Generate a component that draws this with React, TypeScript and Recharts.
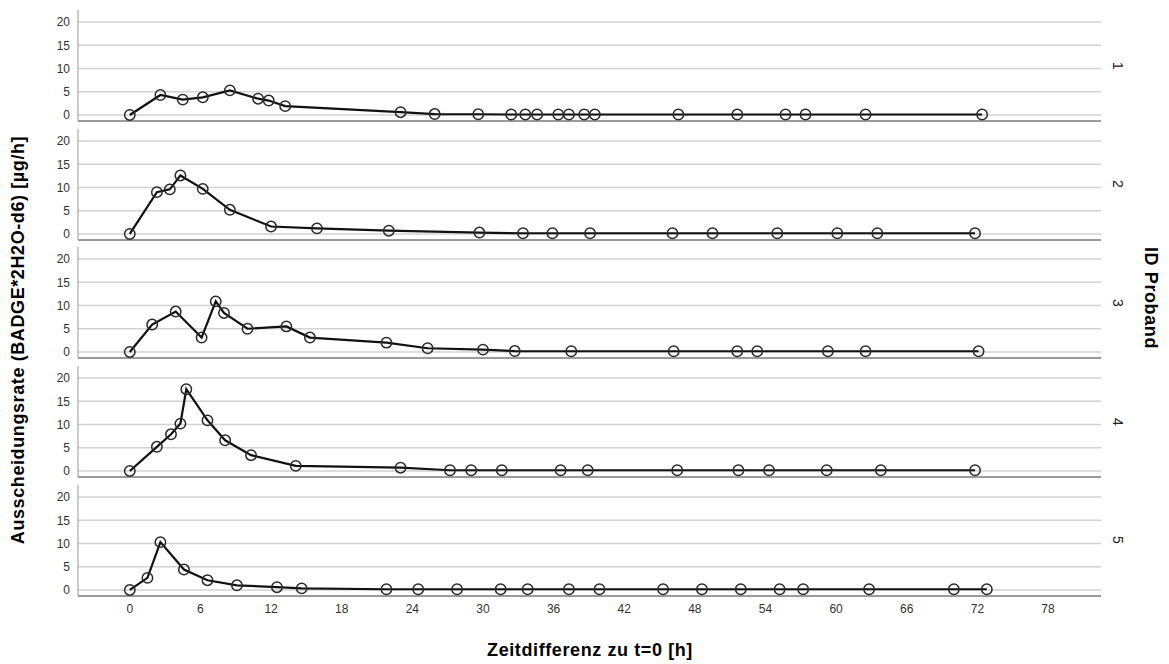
import React from "react";
import { LineChart, Line, XAxis, YAxis, CartesianGrid } from "recharts";

const panelIds = ["1", "2", "3", "4", "5"];

const times1 = [0, 2.6, 4.5, 6.2, 8.5, 10.9, 11.8, 13.2, 23.0, 25.9, 29.6, 32.4, 33.6, 34.6, 36.4, 37.3, 38.6, 39.5, 46.6, 51.6, 55.7, 57.4, 62.5, 72.4];
const values1 = [0, 4.3, 3.3, 3.8, 5.3, 3.5, 3.1, 1.9, 0.6, 0.2, 0.15, 0.1, 0.1, 0.1, 0.1, 0.1, 0.1, 0.1, 0.1, 0.1, 0.1, 0.1, 0.1, 0.1];

const times2 = [0, 2.3, 3.4, 4.3, 6.2, 8.5, 12.0, 15.9, 22.0, 29.7, 33.4, 35.9, 39.1, 46.1, 49.5, 55.0, 60.1, 63.5, 71.8];
const values2 = [0, 9.0, 9.6, 12.6, 9.7, 5.2, 1.6, 1.2, 0.7, 0.3, 0.15, 0.15, 0.15, 0.15, 0.15, 0.15, 0.15, 0.15, 0.15];

const times3 = [0, 1.9, 3.9, 6.1, 7.3, 8.0, 10.0, 13.3, 15.3, 21.8, 25.3, 30.0, 32.7, 37.5, 46.2, 51.6, 53.3, 59.3, 62.5, 72.1];
const values3 = [0, 5.9, 8.7, 3.1, 10.9, 8.4, 5.0, 5.5, 3.1, 2.0, 0.8, 0.5, 0.2, 0.15, 0.15, 0.15, 0.15, 0.15, 0.15, 0.15];

const times4 = [0, 2.3, 3.5, 4.3, 4.8, 6.6, 8.1, 10.3, 14.1, 23.0, 27.2, 29.0, 31.6, 36.6, 38.9, 46.5, 51.7, 54.3, 59.2, 63.8, 71.8];
const values4 = [0, 5.2, 7.9, 10.2, 17.6, 10.9, 6.6, 3.4, 1.1, 0.7, 0.15, 0.15, 0.15, 0.15, 0.15, 0.15, 0.15, 0.15, 0.15, 0.15, 0.15];

const times5 = [0, 1.5, 2.6, 4.6, 6.6, 9.1, 12.5, 14.6, 21.8, 24.5, 27.8, 31.5, 33.8, 37.3, 39.9, 45.3, 48.6, 51.9, 55.2, 57.2, 62.8, 70.0, 72.8];
const values5 = [0, 2.6, 10.3, 4.4, 2.1, 1.0, 0.6, 0.35, 0.15, 0.15, 0.15, 0.15, 0.15, 0.15, 0.15, 0.15, 0.15, 0.15, 0.15, 0.15, 0.15, 0.15, 0.15];

const xTicks = [0, 6, 12, 18, 24, 30, 36, 42, 48, 54, 60, 66, 72, 78];
const yTicks = [0, 5, 10, 15, 20];

const allTimes = [times1, times2, times3, times4, times5];
const allValues = [values1, values2, values3, values4, values5];

const FONT = '"Liberation Sans", Arial, sans-serif';
const PANEL_TOP = 10;
const PANEL_PITCH = 118.7;
const PLOT_H = 111;

function Panel({ idx }: { idx: number }) {
  const data = allTimes[idx].map((t, i) => ({ t, v: allValues[idx][i] }));
  const last = idx === 4;
  const h = PLOT_H + (last ? 30 : 1);
  return (
    <div style={{ position: "absolute", left: 0, top: PANEL_TOP + idx * PANEL_PITCH }}>
      <LineChart width={1169} height={h} data={data} margin={{ top: 0, right: 68, bottom: 0, left: 0 }}>
        <CartesianGrid vertical={false} horizontal={true} stroke="#d2d2d2" strokeWidth={1.5} horizontalValues={yTicks} />
        <XAxis
          dataKey="t"
          type="number"
          domain={[-4.4, 82.5]}
          ticks={xTicks}
          interval={0}
          allowDataOverflow
          height={last ? 30 : 1}
          tick={last ? { fontSize: 12, fill: "#333", fontFamily: FONT } : false}
          tickLine={false}
          tickSize={0}
          tickMargin={8}
          axisLine={{ stroke: "#7a7a7a", strokeWidth: 1.5 }}
        />
        <YAxis
          type="number"
          domain={[-1.3, 22.6]}
          ticks={yTicks}
          interval={0}
          allowDataOverflow
          width={78}
          tick={{ fontSize: 12, fill: "#333", fontFamily: FONT }}
          tickLine={false}
          tickSize={0}
          tickMargin={8}
          axisLine={{ stroke: "#9a9a9a", strokeWidth: 1 }}
        />
        <Line
          dataKey="v"
          type="linear"
          stroke="#111"
          strokeWidth={2.2}
          dot={{ r: 5.2, stroke: "#2a2a2a", strokeWidth: 1.5, fill: "none" }}
          isAnimationActive={false}
        />
      </LineChart>
      <div
        style={{
          position: "absolute",
          left: 1118,
          top: PLOT_H / 2,
          transform: "translate(-50%, -50%) rotate(90deg)",
          fontFamily: FONT,
          fontSize: 14,
          color: "#222",
          whiteSpace: "nowrap",
        }}
      >
        {panelIds[idx]}
      </div>
    </div>
  );
}

const titleStyle: React.CSSProperties = {
  position: "absolute",
  fontFamily: FONT,
  fontWeight: "bold",
  fontSize: 18,
  letterSpacing: 0.6,
  color: "#000",
  whiteSpace: "nowrap",
};

export default function App() {
  return (
    <div style={{ position: "absolute", left: 0, top: 0, width: 1169, height: 664, background: "#fff", overflow: "hidden" }}>
      {panelIds.map((_, i) => (
        <Panel key={i} idx={i} />
      ))}
      <div style={{ ...titleStyle, left: 18, top: 340, transform: "translate(-50%, -50%) rotate(-90deg)" }}>
        Ausscheidungsrate (BADGE*2H2O-d6) [µg/h]
      </div>
      <div style={{ ...titleStyle, left: 1150, top: 298, transform: "translate(-50%, -50%) rotate(90deg)" }}>
        ID Proband
      </div>
      <div style={{ ...titleStyle, left: 590, top: 650, transform: "translate(-50%, -50%)" }}>
        Zeitdifferenz zu t=0 [h]
      </div>
    </div>
  );
}
